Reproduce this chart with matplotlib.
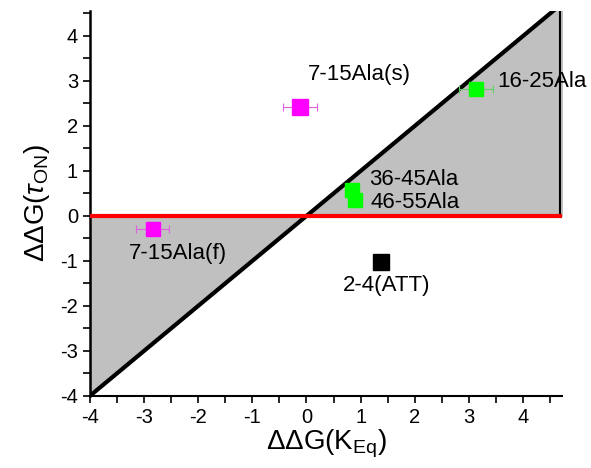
import numpy as np
import matplotlib
matplotlib.use('Agg')
import matplotlib.pyplot as plt

plt.rcParams['font.family'] = ['Liberation Sans', 'DejaVu Sans']
plt.rcParams['mathtext.fontset'] = 'custom'
plt.rcParams['mathtext.rm'] = 'Liberation Sans'
plt.rcParams['mathtext.it'] = 'Liberation Sans:italic'
plt.rcParams['axes.unicode_minus'] = False

# data
names = ["7-15Ala(s)", "7-15Ala(f)", "16-25Ala", "36-45Ala", "46-55Ala", "2-4(ATT)"]
dg_keq = [-0.12, -2.84, 3.13, 0.85, 0.89, 1.37]
dg_ton = [2.43, -0.28, 2.82, 0.57, 0.35, -1.03]
xerr = [0.31, 0.30, 0.31, 0.0, 0.0, 0.0]
colors = ["#ff00ff", "#ff00ff", "#00ff00", "#00ff00", "#00ff00", "black"]
msizes = [12, 10, 9.5, 9.5, 9.5, 12]
label_pos = [(0.02, 3.15), (-3.27, -0.84), (3.52, 2.98), (1.15, 0.80), (1.18, 0.30), (0.68, -1.55)]

xmin, xmax = -4, 4.72
ymin, ymax = -4, 4.55

fig = plt.figure(figsize=(5.91, 4.68), dpi=100)
ax = fig.add_axes([0.152, 0.154, 0.799, 0.822])

#shaded triangles between y=x and y=0
xx = np.array([xmin, 0, xmax])
ax.fill_between(xx, xx, 0, color="#c0c0c0", zorder=1)
ax.plot([xmax - 0.03, xmax - 0.03], [0, ymax], color="black", lw=1.5, zorder=2)
ax.plot([xmin, xmax], [xmin, xmax], color="black", lw=3, zorder=3)
ax.plot([xmin, xmax - 0.03], [0, 0], color="red", lw=3, zorder=3)

for i in range(len(names)):
    ecol = "#e060e0" if colors[i] == "#ff00ff" else "#60d060"
    if xerr[i] > 0:
        ax.errorbar(dg_keq[i], dg_ton[i], xerr=xerr[i], fmt="none", ecolor=ecol,
                    elinewidth=0.8, capsize=3, capthick=0.8, zorder=4)
    ax.plot(dg_keq[i], dg_ton[i], marker="s", ms=msizes[i], color=colors[i],
            mec=colors[i], ls="none", zorder=5)
    ax.text(label_pos[i][0], label_pos[i][1], names[i], fontsize=16,
            ha="left", va="center", zorder=6)

ax.set_xlim(xmin, xmax)
ax.set_ylim(ymin, ymax)
ax.spines['top'].set_visible(False)
ax.spines['right'].set_visible(False)
ax.spines['left'].set_linewidth(1.8)
ax.spines['bottom'].set_linewidth(1.5)
ax.set_xticks(np.arange(-4, 5, 1))
ax.set_yticks(np.arange(-4, 5, 1))
ax.set_xticks(np.arange(-3.5, 4.7, 1), minor=True)
ax.set_yticks(np.arange(-3.5, 4.6, 1), minor=True)
ax.tick_params(which="both", direction="out", length=5, width=1.2, labelsize=14.5)
ax.set_xlabel("ΔΔG(K$_{\\mathrm{Eq}}$)", fontsize=20, labelpad=1)
ax.set_ylabel("ΔΔG($\\tau_{\\mathrm{ON}}$)", fontsize=20, labelpad=6)

fig.savefig("out.png", dpi=100)
